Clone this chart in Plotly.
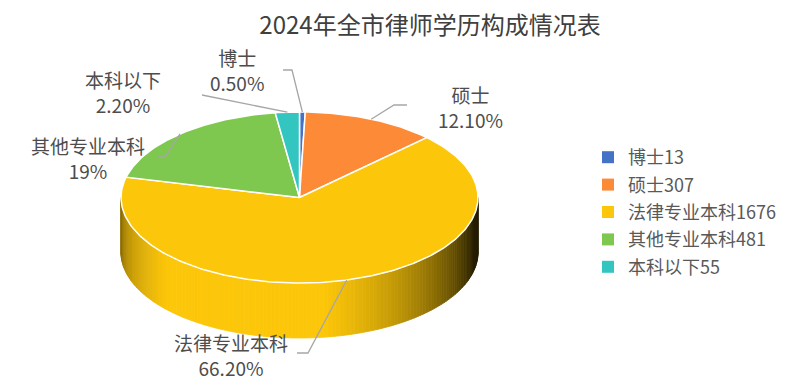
import numpy as np
import plotly.graph_objects as go

# ---------------- data ----------------
title_text = "2024年全市律师学历构成情况表"
categories = ["博士", "硕士", "法律专业本科", "其他专业本科", "本科以下"]
counts = [13, 307, 1676, 481, 55]
pct_labels = ["0.50%", "12.10%", "66.20%", "19%", "2.20%"]
colors = ["#4472C4", "#FD8A37", "#FCC60A", "#7EC850", "#33C6C1"]

# ---------------- layout geometry (pixels) ----------------
W, H = 795, 391
CX, CY, A, B, DEPTH = 299.5, 197.5, 178.5, 85.5, 55
FONT = "Noto Sans CJK SC, Noto Sans, sans-serif"
# label block centres and leader-line elbows
label_pos = [(237, 70), (470, 107), (231, 355), (88, 158), (123, 92)]
leader_start = [[(283, 70), (292, 70)], [(407, 105), (394, 105)],
                [(297, 353), (308, 353)], [(158, 157), (165, 157)],
                [(202, 95)]]


def pt(theta_deg, dy=0.0):
    t = np.radians(theta_deg)
    return CX + A * np.sin(t), CY - B * np.cos(t) + dy


def hex_rgb(h):
    h = h.lstrip("#")
    return tuple(int(h[i:i + 2], 16) for i in (0, 2, 4))


total = float(sum(counts))
fracs = [c / total for c in counts]
edges = np.concatenate([[0.0], np.cumsum(fracs)]) * 360.0

fig = go.Figure()

# ---------------- side wall (front half, shaded) ----------------
N = 140
th = np.linspace(90, 270, N + 1)
for i in range(N):
    t0, t1 = th[i], th[i + 1]
    tm = 0.5 * (t0 + t1)
    k = int(np.searchsorted(edges, tm, side="right") - 1)
    k = min(max(k, 0), len(categories) - 1)
    u = np.sin(np.radians(tm))
    phi = np.arcsin(np.clip(u, -1, 1))
    b = 0.25 + 0.85 * np.cos(phi + np.radians(20))
    b = float(np.clip(b, 0.15, 1.0))
    r, g, bl = hex_rgb(colors[k])
    col = f"rgb({int(r*b)},{int(g*b)},{int(bl*b)})"
    x0, y0 = pt(t0)
    x1, y1 = pt(t1)
    fig.add_trace(go.Scatter(
        x=[x0, x1, x1, x0, x0], y=[y0, y1, y1 + DEPTH, y0 + DEPTH, y0],
        mode="lines", fill="toself", fillcolor=col,
        line=dict(color=col, width=0.8), showlegend=False, hoverinfo="skip"))

# ---------------- top face slices ----------------
for k, cat in enumerate(categories):
    a0, a1 = edges[k], edges[k + 1]
    n = max(3, int((a1 - a0) / 1.0) + 2)
    arc = np.linspace(a0, a1, n)
    xs, ys = pt(arc)
    px = np.concatenate([[CX], xs, [CX]])
    py = np.concatenate([[CY], ys, [CY]])
    fig.add_trace(go.Scatter(
        x=px, y=py, mode="lines", fill="toself", fillcolor=colors[k],
        line=dict(color="white", width=1.5), showlegend=False,
        name=cat, hoverinfo="skip"))

# ---------------- leader lines + labels ----------------
for k, cat in enumerate(categories):
    mid = 0.5 * (edges[k] + edges[k + 1])
    ex, ey = pt(mid)
    pts = leader_start[k] + [(ex, ey)]
    fig.add_trace(go.Scatter(
        x=[p[0] for p in pts], y=[p[1] for p in pts], mode="lines",
        line=dict(color="#A6A6A6", width=1.3), showlegend=False,
        hoverinfo="skip"))
    lx, ly = label_pos[k]
    fig.add_annotation(x=lx, y=ly, xref="x", yref="y",
                       text=f"{cat}<br>{pct_labels[k]}", showarrow=False,
                       xanchor="center", yanchor="middle", align="center",
                       font=dict(family=FONT, size=19, color="#4d4d4d"))

# ---------------- legend entries ----------------
for k, cat in enumerate(categories):
    fig.add_trace(go.Scatter(
        x=[None], y=[None], mode="markers",
        marker=dict(symbol="square", size=8, color=colors[k]),
        name=f"{cat}{counts[k]}", legendgroup=f"g{k}", showlegend=True))

fig.update_layout(
    width=W, height=H, autosize=False,
    margin=dict(l=0, r=0, t=0, b=0),
    paper_bgcolor="white", plot_bgcolor="white",
    title=dict(text=title_text, x=430 / W, xanchor="center",
               y=1 - 26 / H, yanchor="middle",
               font=dict(family=FONT, size=24, color="#404040")),
    xaxis=dict(range=[0, W], visible=False, fixedrange=True),
    yaxis=dict(range=[H, 0], visible=False, fixedrange=True),
    legend=dict(x=588 / W, xanchor="left", y=1 - 139 / H, yanchor="top",
                font=dict(family=FONT, size=18, color="#595959"),
                tracegroupgap=1, bgcolor="rgba(0,0,0,0)", itemsizing="constant"),
    showlegend=True,
)

fig.write_html("out.html", config={"displayModeBar": False},
               post_script="document.body.style.margin='0';")
